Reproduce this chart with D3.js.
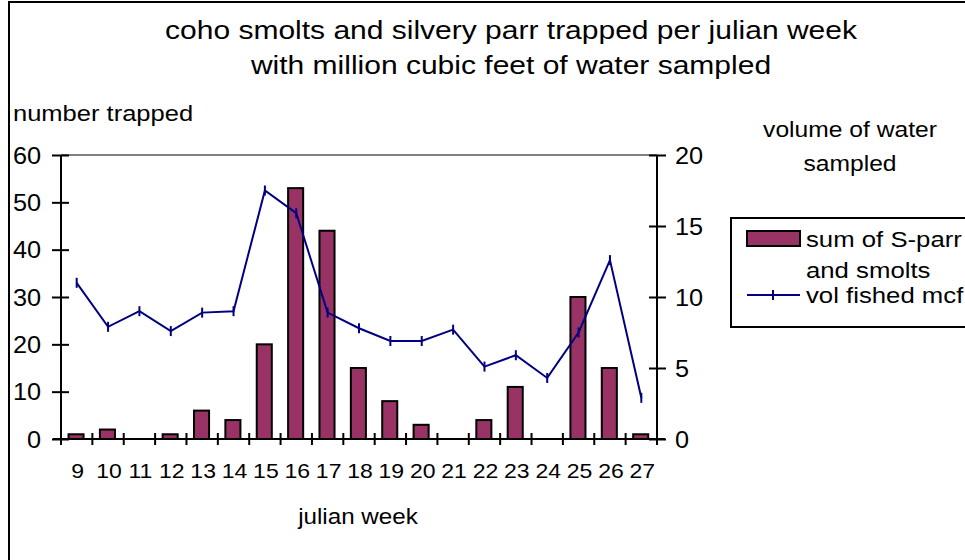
<!DOCTYPE html>
<html><head><meta charset="utf-8">
<script src="https://cdn.jsdelivr.net/npm/d3@7"></script>
<style>
body{margin:0;background:#fff;}
text{font-family:"Liberation Sans",Arial,sans-serif;fill:#000;}
</style></head>
<body><svg id="c" width="965" height="560"></svg>
<script>
const weeks = [9,10,11,12,13,14,15,16,17,18,19,20,21,22,23,24,25,26,27];
const trapped = [1,2,0,1,6,4,20,53,44,15,8,3,0,4,11,0,30,15,1];
const volume = [11.0,7.9,9.0,7.6,8.9,9.0,17.5,15.9,8.9,7.8,6.9,6.9,7.7,5.1,5.9,4.3,7.5,12.6,2.9];
const leftTicks = [0,10,20,30,40,50,60];
const rightTicks = [0,5,10,15,20];
const titleLines = ["coho smolts and silvery parr trapped per julian week","with million cubic feet of water sampled"];
const leftTitle = "number trapped";
const rightTitleLines = ["volume of water","sampled"];
const xTitle = "julian week";
const legendBar = ["sum of S-parr","and smolts"];
const legendLine = "vol fished mcf";

const svg = d3.select("#c");
const L=61,R=657,T=155,B=439;
const barColor="#993366", lineColor="#000080";

// place stretched text
function st(sel, px, py, sx){
  sel.attr("x",0).attr("y",0).attr("transform",`translate(${px},${py}) scale(${sx},1)`);
  return sel;
}

// frame
svg.append("rect").attr("x",9).attr("y",2).attr("width",1000).attr("height",600)
  .attr("fill","none").attr("stroke","#000").attr("stroke-width",2);

const x = d3.scaleBand().domain(weeks).range([L,R]).padding(0);
const yL = d3.scaleLinear().domain([0,60]).range([B,T]);
const yR = d3.scaleLinear().domain([0,20]).range([B,T]);
const bw = x.bandwidth();

// top plot border
svg.append("line").attr("x1",L).attr("x2",R).attr("y1",T).attr("y2",T).attr("stroke","#808080").attr("stroke-width",2);

// bars
svg.append("g").selectAll("rect").data(weeks).join("rect")
  .attr("x",(d)=>x(d)+bw*0.24).attr("width",bw*0.48)
  .attr("y",(d,i)=>yL(trapped[i])).attr("height",(d,i)=>B-yL(trapped[i]))
  .attr("fill",barColor).attr("stroke","#000").attr("stroke-width",2);

// left axis
const gl = svg.append("g").attr("transform",`translate(${L},0)`)
  .call(d3.axisLeft(yL).tickValues(leftTicks).tickSize(8).tickPadding(14).tickFormat(d3.format("d")));
gl.selectAll(".tick line").attr("x2",-9).attr("x1",8).attr("stroke","#000").attr("stroke-width",2);
gl.select(".domain").attr("stroke","#000").attr("stroke-width",2).attr("d",`M0,${B}V${T}`);
gl.selectAll(".tick text").attr("font-size",23).attr("fill","#000").attr("dy","0.36em")
  .each(function(){ d3.select(this).attr("x",0).attr("transform","translate(-20,0) scale(1.1,1)"); });

// right axis
const gr = svg.append("g").attr("transform",`translate(${R},0)`)
  .call(d3.axisRight(yR).tickValues(rightTicks).tickSize(8).tickPadding(14).tickFormat(d3.format("d")));
gr.selectAll(".tick line").attr("x1",-8).attr("x2",9).attr("stroke","#000").attr("stroke-width",2);
gr.select(".domain").attr("stroke","#000").attr("stroke-width",2).attr("d",`M0,${B}V${T}`);
gr.selectAll(".tick text").attr("font-size",23).attr("fill","#000").attr("dy","0.36em")
  .each(function(){ d3.select(this).attr("x",0).attr("transform","translate(18,0) scale(1.1,1)"); });

// bottom axis
const gb = svg.append("g").attr("transform",`translate(0,${B})`)
  .call(d3.axisBottom(x).tickSize(0).tickPadding(0));
gb.select(".domain").attr("stroke","#000").attr("stroke-width",2).attr("d",`M${L-8},0H${R+8}`);
gb.selectAll(".tick text").attr("font-size",20).attr("fill","#000").attr("dy",0)
  .each(function(){ d3.select(this).attr("y",0).attr("transform","translate(1,39) scale(1.15,1)"); });
const bounds = weeks.map(d=>x(d)).concat([R]);
gb.selectAll(".bt").data(bounds).join("line").attr("class","bt")
  .attr("x1",d=>d).attr("x2",d=>d).attr("y1",-6).attr("y2",6).attr("stroke","#000").attr("stroke-width",2);

// line
const cx = d=>x(d)+bw/2;
svg.append("path").datum(weeks).attr("fill","none").attr("stroke",lineColor).attr("stroke-width",2)
  .attr("d",d3.line().x(d=>cx(d)).y((d,i)=>yR(volume[i])));
svg.append("g").selectAll("line").data(weeks).join("line")
  .attr("x1",d=>cx(d)).attr("x2",d=>cx(d))
  .attr("y1",(d,i)=>yR(volume[i])-5).attr("y2",(d,i)=>yR(volume[i])+5)
  .attr("stroke",lineColor).attr("stroke-width",2);

// titles
svg.append("g").selectAll("text").data(titleLines).join("text")
  .attr("text-anchor","middle").attr("font-size",25).text(d=>d)
  .each(function(d,i){ st(d3.select(this),511,39+i*35,1.2); });
st(svg.append("text").attr("font-size",22).text(leftTitle),13,121,1.16);
svg.append("g").selectAll("text").data(rightTitleLines).join("text")
  .attr("text-anchor","middle").attr("font-size",22).text(d=>d)
  .each(function(d,i){ st(d3.select(this),850,137+i*34,1.12); });
st(svg.append("text").attr("text-anchor","middle").attr("font-size",22).text(xTitle),358,524,1.1);

// legend
const lg = svg.append("g");
lg.append("rect").attr("x",731).attr("y",218).attr("width",300).attr("height",109)
  .attr("fill","#fff").attr("stroke","#000").attr("stroke-width",2);
lg.append("rect").attr("x",747).attr("y",231).attr("width",53).attr("height",15)
  .attr("fill",barColor).attr("stroke","#000").attr("stroke-width",2);
lg.selectAll(".lb").data(legendBar).join("text").attr("class","lb")
  .attr("font-size",22).text(d=>d)
  .each(function(d,i){ st(d3.select(this),806,247+i*31,1.17); });
lg.append("line").attr("x1",747).attr("x2",800).attr("y1",295).attr("y2",295).attr("stroke",lineColor).attr("stroke-width",2);
lg.append("line").attr("x1",773).attr("x2",773).attr("y1",290).attr("y2",300).attr("stroke",lineColor).attr("stroke-width",2);
st(lg.append("text").attr("font-size",22).text(legendLine),806,303,1.17);
</script></body></html>
